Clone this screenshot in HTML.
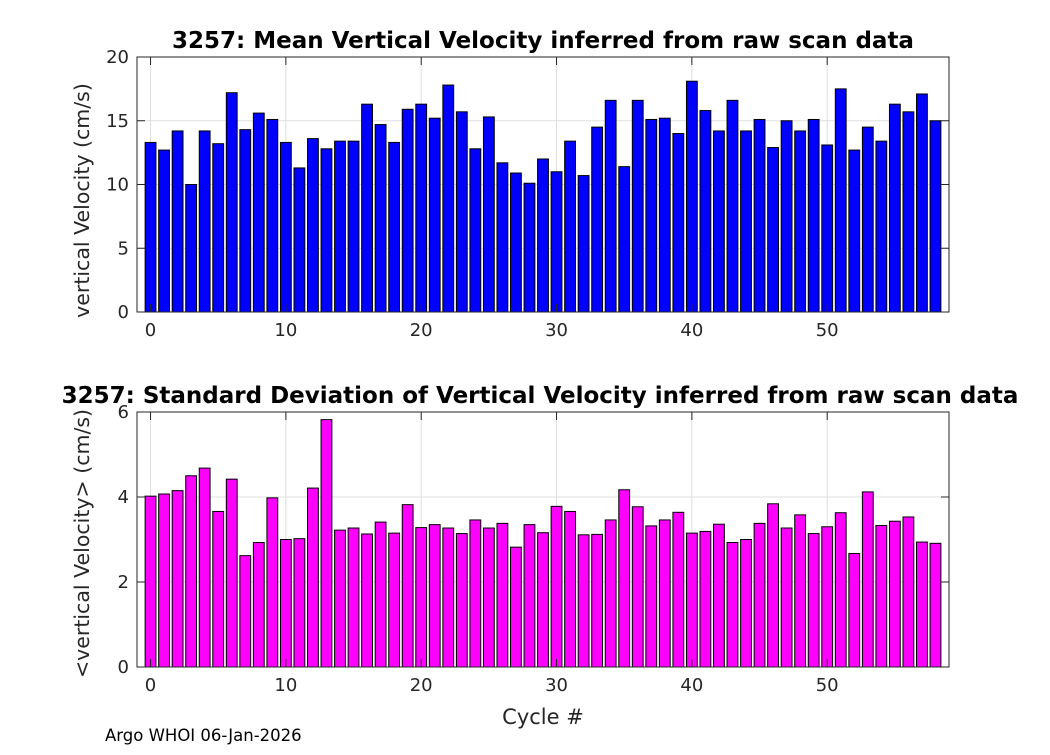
<!DOCTYPE html>
<html><head><meta charset="utf-8"><style>
body{margin:0;background:#fff;}
svg text{font-family:"DejaVu Sans","Liberation Sans",sans-serif;fill:#262626;}
</style></head><body>
<svg id="fig" width="1050" height="750" xmlns="http://www.w3.org/2000/svg"></svg>
<script>
const cycles=[...Array(59).keys()];
const meanVel=[13.3,12.7,14.2,10,14.2,13.2,17.2,14.3,15.6,15.1,13.3,11.3,13.6,12.8,13.4,13.4,16.3,14.7,13.3,15.9,16.3,15.2,17.8,15.7,12.8,15.3,11.7,10.9,10.1,12,11,13.4,10.7,14.5,16.6,11.4,16.6,15.1,15.2,14,18.1,15.8,14.2,16.6,14.2,15.1,12.9,15,14.2,15.1,13.1,17.5,12.7,14.5,13.4,16.3,15.7,17.1,15];
const stdVel=[4.02,4.07,4.15,4.5,4.68,3.66,4.42,2.62,2.93,3.98,3.0,3.02,4.21,5.82,3.22,3.27,3.13,3.41,3.15,3.82,3.28,3.35,3.27,3.14,3.46,3.27,3.38,2.82,3.35,3.16,3.78,3.66,3.11,3.12,3.46,4.17,3.77,3.32,3.46,3.64,3.15,3.19,3.36,2.93,3.0,3.38,3.84,3.27,3.58,3.14,3.3,3.63,2.67,4.12,3.33,3.43,3.53,2.94,2.91];
const xTicks=[0,10,20,30,40,50];
const yTicksTop=[0,5,10,15,20];
const yTicksBot=[0,2,4,6];
const NS="http://www.w3.org/2000/svg";
const svg=document.getElementById('fig');
function mk(tag,attrs,parent){const e=document.createElementNS(NS,tag);for(const k in attrs)e.setAttribute(k,attrs[k]);(parent||svg).appendChild(e);return e;}
const L=137,R=949;
const xs=v=>L+(v+1)/60*(R-L);
function panel(top,bot,ymax,vals,color,yTicks,title,ylabel,name,labelShift){
  const g=mk('g',{});
  
  
  const ys=v=>bot-v/ymax*(bot-top);
  mk('rect',{x:L,y:top,width:R-L,height:bot-top,fill:'#fff'},g);
  xTicks.forEach(t=>{const l=mk('line',{x1:xs(t),x2:xs(t),y1:top,y2:bot,stroke:'#dfdfdf'},g);});
  yTicks.forEach(t=>{const l=mk('line',{x1:L,x2:R,y1:ys(t),y2:ys(t),stroke:'#dfdfdf'},g);});
  cycles.forEach((c,i)=>{const h=vals[i];const b=mk('rect',{x:xs(c-0.4),y:ys(h),width:xs(0.8)-xs(0),height:ys(0)-ys(h),fill:color,stroke:'#000','stroke-width':1},g);
    });
  mk('rect',{x:L,y:top,width:R-L,height:bot-top,fill:'none',stroke:'#262626'},g);
  xTicks.forEach(t=>{mk('line',{x1:xs(t),x2:xs(t),y1:bot,y2:bot-8,stroke:'#262626'},g);mk('line',{x1:xs(t),x2:xs(t),y1:top,y2:top+8,stroke:'#262626'},g);
    const tx=mk('text',{x:xs(t),y:bot+24,'text-anchor':'middle','font-size':18},g);tx.textContent=t;});
  yTicks.forEach(t=>{mk('line',{x1:L,x2:L+8,y1:ys(t),y2:ys(t),stroke:'#262626'},g);mk('line',{x1:R,x2:R-8,y1:ys(t),y2:ys(t),stroke:'#262626'},g);
    const tx=mk('text',{x:L-8,y:ys(t)+6,'text-anchor':'end','font-size':18},g);tx.textContent=t;});
  const tt=mk('text',{x:(L+R)/2+(name==='std-velocity-chart'?-3:0),y:top-9,'text-anchor':'middle','font-size':23,'font-weight':'bold',style:'fill:#000'},g);tt.textContent=title;
  
  const yl=mk('text',{x:0,y:0,'text-anchor':'middle','font-size':20.5,transform:`translate(89,${(top+bot)/2+labelShift}) rotate(-90)`},g);yl.textContent=ylabel;
  
}
panel(57,312,20,meanVel,'#0000ff',yTicksTop,'3257: Mean Vertical Velocity inferred from raw scan data','vertical Velocity (cm/s)','mean-velocity-chart',16);
panel(412,667,6,stdVel,'#ff00ff',yTicksBot,'3257: Standard Deviation of Vertical Velocity inferred from raw scan data','<vertical Velocity> (cm/s)','std-velocity-chart',4);
const xl=mk('text',{x:543,y:724,'text-anchor':'middle','font-size':21});xl.textContent='Cycle #';

const ft=mk('text',{x:105,y:741,'font-size':16.5,style:'fill:#000'});ft.textContent='Argo WHOI 06-Jan-2026';

</script>
</body></html>
